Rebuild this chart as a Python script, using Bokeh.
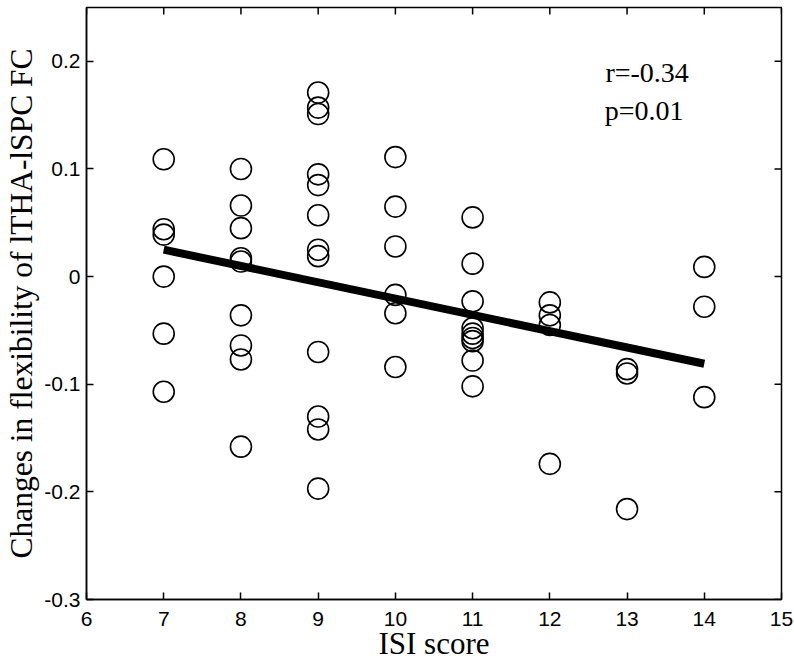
from bokeh.plotting import figure
from bokeh.models import Range1d, Label, FixedTicker
from bokeh.embed import file_html
from bokeh.resources import INLINE

# ISI score (x) and change in flexibility (y)
isi_7 = [0.109, 0.044, 0.039, 0.0, -0.053, -0.107]
isi_8 = [0.100, 0.066, 0.045, 0.017, 0.014, -0.036, -0.064, -0.077, -0.158]
isi_9 = [0.171, 0.157, 0.151, 0.095, 0.085, 0.057, 0.025, 0.019, -0.070, -0.130, -0.142, -0.197]
isi_10 = [0.111, 0.065, 0.028, -0.017, -0.034, -0.084]
isi_11 = [0.055, 0.012, -0.023, -0.048, -0.053, -0.057, -0.060, -0.078, -0.102]
isi_12 = [-0.024, -0.036, -0.045, -0.174]
isi_13 = [-0.086, -0.090, -0.216]
isi_14 = [0.009, -0.028, -0.112]

groups = {7: isi_7, 8: isi_8, 9: isi_9, 10: isi_10, 11: isi_11, 12: isi_12, 13: isi_13, 14: isi_14}
xs, ys = [], []
for k, vals in groups.items():
    xs += [k] * len(vals)
    ys += vals

fit_x = [7, 14]
fit_y = [0.025, -0.081]

x_ticks = [6, 7, 8, 9, 10, 11, 12, 13, 14, 15]
y_ticks = [-0.3, -0.2, -0.1, 0, 0.1, 0.2]
y_tick_labels = {-0.3: "-0.3", -0.2: "-0.2", -0.1: "-0.1", 0: "0", 0.1: "0.1", 0.2: "0.2"}
x_lo, x_hi = 6, 15
y_lo, y_hi = -0.3, 0.25

p = figure(width=794, height=666, output_backend="svg", toolbar_location=None,
           x_range=Range1d(x_lo, x_hi), y_range=Range1d(y_lo, y_hi),
           min_border_left=86, min_border_right=13, min_border_top=7, min_border_bottom=67,
           background_fill_color="white", border_fill_color="white")
p.grid.visible = False
p.outline_line_color = "black"
p.outline_line_width = 1.5

for ax in (p.xaxis[0], p.yaxis[0]):
    ax.axis_line_width = 1.5
    ax.major_tick_line_width = 1.5
    ax.major_tick_in = 7
    ax.major_tick_out = 0
    ax.minor_tick_line_color = None
    ax.major_label_text_font = "Liberation Sans"
    ax.major_label_text_font_size = "21px"
    ax.major_label_text_color = "black"
    ax.axis_label_text_font = "Liberation Serif"
    ax.axis_label_text_font_style = "normal"
    ax.axis_label_text_color = "black"

p.xaxis.ticker = FixedTicker(ticks=x_ticks)
p.yaxis.ticker = FixedTicker(ticks=y_ticks)
p.yaxis.major_label_overrides = y_tick_labels
p.xaxis.axis_label = "ISI score"
p.yaxis.axis_label = "Changes in flexibility of lTHA-lSPC FC"
p.xaxis.axis_label_text_font_size = "31px"
p.yaxis.axis_label_text_font_size = "31.5px"
p.xaxis.major_label_standoff = 12
p.xaxis.axis_label_standoff = -3
p.yaxis.major_label_standoff = 6
p.yaxis.axis_label_standoff = 2

# inward ticks on the top and right edges of the box (half of each dash is clipped)
p.scatter(x_ticks, [y_hi] * len(x_ticks), marker="dash", angle=1.5708, size=14,
          line_color="black", line_width=1.5)
p.scatter([x_hi] * len(y_ticks), y_ticks, marker="dash", size=14,
          line_color="black", line_width=1.5)

p.scatter(xs, ys, marker="circle", size=21, fill_color=None, line_color="black", line_width=1.6)
p.line(fit_x, fit_y, line_width=8, line_color="black")

p.add_layout(Label(x=12.72, y=0.19, text="r=-0.34", text_font="Liberation Serif",
                   text_font_size="28px", text_color="black", text_baseline="alphabetic"))
p.add_layout(Label(x=12.71, y=0.1545, text="p=0.01", text_font="Liberation Serif",
                   text_font_size="28px", text_color="black", text_baseline="alphabetic"))

open("out.html", "w").write(file_html(p, INLINE))
